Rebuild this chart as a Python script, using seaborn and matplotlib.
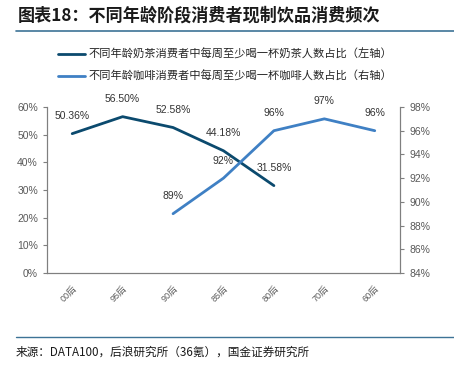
import matplotlib
matplotlib.use('Agg')
import matplotlib.pyplot as plt
from matplotlib.lines import Line2D
from matplotlib.ticker import FuncFormatter
import seaborn as sns
import pandas as pd

# data
categories = ['00后', '95后', '90后', '85后', '80后', '70后', '60后']
tea_cats = ['00后', '95后', '90后', '85后', '80后']
tea_values = [50.36, 56.50, 52.58, 44.18, 31.58]
coffee_cats = ['90后', '85后', '80后', '70后', '60后']
coffee_values = [89, 92, 96, 97, 96]

tea_label = '不同年龄奶茶消费者中每周至少喝一杯奶茶人数占比（左轴）'
coffee_label = '不同年龄咖啡消费者中每周至少喝一杯咖啡人数占比（右轴）'

sns.set_style('white')
plt.rcParams['font.family'] = ['Liberation Sans', 'Noto Sans CJK SC']

TEA = '#0b4a6e'
COFFEE = '#3f80c4'
GREY = '#595959'

df_tea = pd.DataFrame({'pos': [categories.index(c) for c in tea_cats], 'val': tea_values})
df_coffee = pd.DataFrame({'pos': [categories.index(c) for c in coffee_cats], 'val': coffee_values})

fig = plt.figure(figsize=(4.54, 3.72), dpi=100)
ax = fig.add_axes([0.1035, 0.2661, 0.7775, 0.4463])
ax2 = ax.twinx()

sns.lineplot(data=df_tea, x='pos', y='val', ax=ax, color=TEA, linewidth=2.0)
sns.lineplot(data=df_coffee, x='pos', y='val', ax=ax2, color=COFFEE, linewidth=2.0)

for x, v in zip(df_tea['pos'], df_tea['val']):
    ax.annotate(f'{v:.2f}%', (x, v), xytext=(0, 9), textcoords='offset points',
                ha='center', va='bottom', fontsize=7.5, color='#333333')
for x, v in zip(df_coffee['pos'], df_coffee['val']):
    ax2.annotate(f'{v:.0f}%', (x, v), xytext=(0, 9), textcoords='offset points',
                 ha='center', va='bottom', fontsize=7.5, color='#333333')

ax.set_xlim(-0.5, len(categories) - 0.5)
ax.set_ylim(0, 60)
ax.set_yticks(range(0, 61, 10))
ax.yaxis.set_major_formatter(FuncFormatter(lambda v, p: f'{v:.0f}%'))
ax2.set_ylim(84, 98)
ax2.set_yticks(range(84, 99, 2))
ax2.yaxis.set_major_formatter(FuncFormatter(lambda v, p: f'{v:.0f}%'))

ax.set_xticks(range(len(categories)))
ax.set_xticklabels(categories, rotation=45, fontsize=6.5, color=GREY,
                   ha='right', rotation_mode='anchor')
ax.set_xticks([i + 0.5 for i in range(-1, len(categories))], minor=True)
ax.tick_params(axis='x', which='major', length=0, pad=8)
ax.tick_params(axis='x', which='minor', direction='in', length=4, color='#7f7f7f')
ax.tick_params(axis='y', labelsize=7.5, labelcolor=GREY, length=3, color='#7f7f7f', left=True)
ax2.tick_params(axis='y', labelsize=7.5, labelcolor=GREY, length=3, color='#7f7f7f', right=True)

for a in (ax, ax2):
    a.set_xlabel('')
    a.set_ylabel('')
    a.grid(False)
    a.spines['top'].set_visible(False)
    for s in ('left', 'right', 'bottom'):
        a.spines[s].set_color('#7f7f7f')
        a.spines[s].set_linewidth(0.8)

# legend
handles = [Line2D([], [], color=TEA, linewidth=2.0),
           Line2D([], [], color=COFFEE, linewidth=2.0)]
fig.legend(handles, [tea_label, coffee_label], loc='upper left',
           bbox_to_anchor=(0.105, 0.897), frameon=False,
           handlelength=2.4, handletextpad=0.3, labelspacing=0.95,
           prop={'family': ['Noto Sans CJK SC'], 'size': 8.1})

# title and rules
fig.text(0.04, 0.957, '图表18：不同年龄阶段消费者现制饮品消费频次', fontsize=12.3,
         fontweight='bold', color='#1a1a1a', va='center',
         family=['Noto Sans CJK SC'], style='italic')
fig.add_artist(Line2D([0.035, 1.0], [0.917, 0.917], color='#3d7396', linewidth=1.2))
fig.add_artist(Line2D([0.035, 1.0], [0.094, 0.094], color='#3d7396', linewidth=1.0))
fig.text(0.035, 0.053, '来源：DATA100，后浪研究所（36氪），国金证券研究所', fontsize=8.4,
         color='#1a1a1a', va='center', family=['Noto Sans CJK SC'])

fig.savefig('out.png', dpi=100)
